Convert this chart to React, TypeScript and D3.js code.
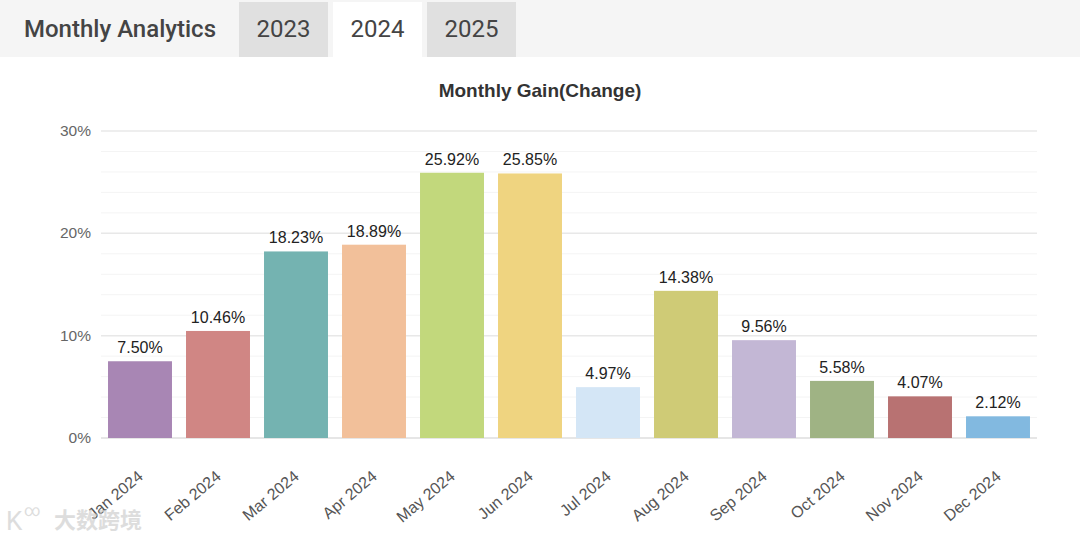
import React from "react";
import * as d3 from "d3";

const months = ["Jan 2024","Feb 2024","Mar 2024","Apr 2024","May 2024","Jun 2024","Jul 2024","Aug 2024","Sep 2024","Oct 2024","Nov 2024","Dec 2024"];
const gains = [7.5, 10.46, 18.23, 18.89, 25.92, 25.85, 4.97, 14.38, 9.56, 5.58, 4.07, 2.12];
const barColors = ["#a886b4","#d08684","#74b3b1","#f2c09a","#c2d87c","#efd480","#d4e6f6","#cfcb76","#c3b7d5","#9fb384","#b87272","#82b9e0"];
const yTicks = [0, 10, 20, 30];
const minorTicks = [2, 4, 6, 8, 12, 14, 16, 18, 22, 24, 26, 28];
const tabs = ["2023", "2024", "2025"];

export default function App() {
  const W = 1080, H = 540;
  const x = d3.scaleBand<string>().domain(months).range([101, 1037]).paddingInner(0.18).paddingOuter(0.09);
  const y = d3.scaleLinear().domain([0, 30]).range([438, 131]);
  const font = "Roboto, 'Liberation Sans', Arial, sans-serif";
  const labFont = "'Liberation Sans', Arial, sans-serif";
  return (
    <svg width={W} height={H} style={{ position: "absolute", left: 0, top: 0, background: "#fff" }} fontFamily={font}>
      <rect x={0} y={0} width={W} height={57} fill="#f5f5f5" />
      <text x={24} y={37} fontSize={24} fill="#444" fontWeight={500}>Monthly Analytics</text>
      {tabs.map((t, i) => (
        <g key={t}>
          <rect x={239 + i * 94} y={2} width={89} height={55} fill={t === "2024" ? "#ffffff" : "#e0e0e0"} />
          <text x={239 + i * 94 + 44.5} y={37} fontSize={24} fill="#444" textAnchor="middle">{t}</text>
        </g>
      ))}
      <text x={540} y={97} fontSize={19} fontWeight="bold" fill="#333" textAnchor="middle" fontFamily={labFont}>Monthly Gain(Change)</text>
      {minorTicks.map(t => (
        <line key={"m" + t} x1={101} x2={1037} y1={y(t)} y2={y(t)} stroke="#f4f4f4" strokeWidth={1} />
      ))}
      {yTicks.map(t => (
        <g key={t}>
          <line x1={101} x2={1037} y1={y(t)} y2={y(t)} stroke={t === 0 ? "#e6e6e6" : "#e8e8e8"} strokeWidth={t === 0 ? 2 : 1.5} />
          <text x={91} y={y(t) + 5} fontSize={15.5} fill="#666" textAnchor="end" fontFamily={labFont}>{t}%</text>
        </g>
      ))}
      {months.map((m, i) => (
        <g key={m}>
          <rect x={x(m)} y={y(gains[i])} width={x.bandwidth()} height={y(0) - y(gains[i])} fill={barColors[i]} />
          <text x={(x(m) as number) + x.bandwidth() / 2} y={y(gains[i]) - 8} fontSize={16} fill="#222" textAnchor="middle" fontFamily={labFont}>
            {gains[i].toFixed(2)}%
          </text>
          <text transform={`translate(${(x(m) as number) + x.bandwidth() / 2 + 4},${478}) rotate(-40)`} fontSize={16} fill="#555" textAnchor="end" fontFamily={labFont}>{m}</text>
        </g>
      ))}
      <g opacity={0.6}>
        <text x={6} y={530} fontSize={26} fill="#c8c8c8" fontFamily={font}>K</text>
        <text x={24} y={516} fontSize={16} fill="#c8c8c8" fontFamily={font}>∞</text>
        <text x={54} y={528} fontSize={22} fill="#c8c8c8" fontWeight="bold" fontFamily="'Noto Sans CJK SC'">大数跨境</text>
      </g>
    </svg>
  );
}
